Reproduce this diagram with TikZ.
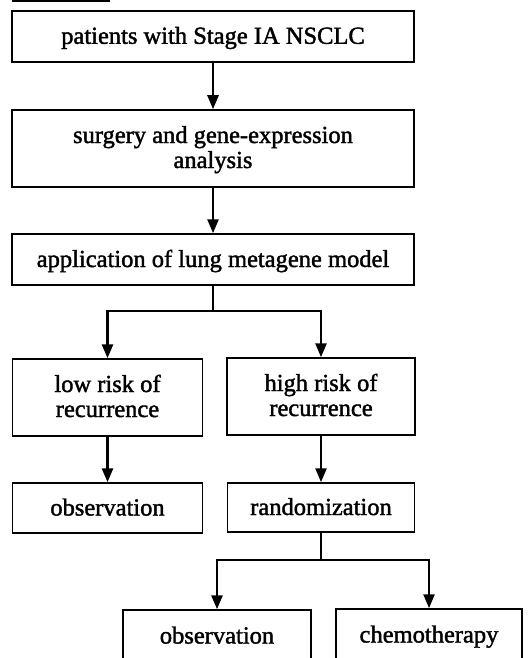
\documentclass[tikz,border=0pt]{standalone}
\usepackage{fontspec}
\setmainfont{Liberation Serif}[FakeBold=1.6]
\usetikzlibrary{arrows.meta}
% two centred lines; the box baseline is that of the second line
\newcommand\twolines[2]{\vbox{\halign{\hfil##\hfil\cr#1\cr#2\cr}}}
\tikzset{
  box/.style={draw, line width=1.5pt, inner sep=0pt,
    font=\fontsize{24.5}{25}\selectfont},
  oneline/.style={box, text height=15pt, text depth=0pt},
  twoline/.style={box, text height=39pt, text depth=0pt},
  flow/.style={line width=2.6pt, -{Triangle[length=14pt,width=11pt]}},
  trunk/.style={line width=2.6pt},
}
\begin{document}
\begin{tikzpicture}[x=1pt,y=-1pt]
  \useasboundingbox (0,0) rectangle (528,658);
  \clip (0,0) rectangle (528,658);
  % edge of the preceding panel
  \coordinate (frA) at (12,1);
  \coordinate (frB) at (110,1);
  \draw[line width=1.6pt] (frA) -- (frB);

  \node[oneline, minimum width=402pt, minimum height=51pt] (pat) at (213,36.3) {patients with Stage IA NSCLC};
  \node[twoline, minimum width=402pt, minimum height=77pt] (surg) at (213,148.5) {\twolines{surgery and gene-expression}{analysis}};
  \node[oneline, minimum width=402pt, minimum height=51pt] (app) at (213,259.5) {application of lung metagene model};
  \node[twoline, minimum width=190pt, minimum height=77pt] (low) at (107.5,397.5) {\twolines{low risk of}{recurrence}};
  \node[twoline, minimum width=188pt, minimum height=77pt] (high) at (321,396.5) {\twolines{high risk of}{recurrence}};
  \node[oneline, minimum width=190pt, minimum height=50pt] (obsA) at (107.5,508) {observation};
  \node[oneline, minimum width=187pt, minimum height=49pt] (rand) at (321,507.5) {randomization};
  \node[oneline, minimum width=188pt, minimum height=52pt] (obsB) at (217,636) {observation};
  \node[oneline, minimum width=186pt, minimum height=52pt] (chemo) at (429,635) {chemotherapy};

  \draw[flow] (pat) -- (surg);
  \draw[flow] (surg) -- (app);

  \coordinate (splitA) at (213,311);
  \draw[trunk] (app.south) -- (splitA);
  \draw[flow] (splitA) -| (low.north);
  \draw[flow] (splitA) -| (high.north);

  \draw[flow] (low) -- (obsA);
  \draw[flow] (high) -- (rand);

  \coordinate (splitB) at (321,560);
  \draw[trunk] (rand.south) -- (splitB);
  \draw[flow] (splitB) -| (obsB.north);
  \draw[flow] (splitB) -| (chemo.north);
\end{tikzpicture}
\end{document}
